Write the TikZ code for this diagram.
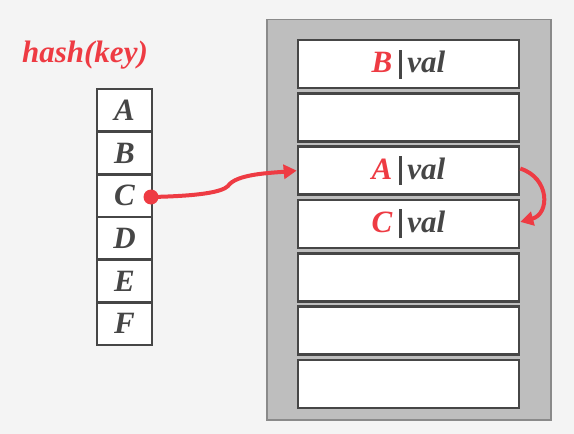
\documentclass[tikz,border=0pt]{standalone}
\usepackage{fontspec}
\setmainfont{Liberation Serif}
\usetikzlibrary{arrows.meta}
\definecolor{bg}{HTML}{F4F4F4}
\definecolor{dk}{HTML}{464646}
\definecolor{rd}{HTML}{EE3B43}
\definecolor{gbox}{HTML}{BEBEBE}
\definecolor{gedge}{HTML}{8A8A8A}
\newcommand{\vbar}{\hspace{7pt}\raisebox{-6pt}{\rule{3pt}{29pt}}\hspace{5pt}}
\tikzset{
  cell/.style={draw=dk, line width=2.6pt, fill=white, minimum width=55pt, minimum height=42.7pt, inner sep=0pt, font=\fontsize{31}{31}\selectfont\bfseries\itshape, text=dk},
  slot/.style={draw=dk, line width=2.6pt, fill=white, minimum width=221pt, minimum height=48pt, inner sep=0pt, font=\fontsize{31}{31}\selectfont\bfseries\itshape, text=dk},
  link/.style={draw=rd, line width=4pt, -{Triangle[length=13pt,width=14pt]}},
}
\begin{document}
\begin{tikzpicture}[x=1pt,y=-1pt]
\useasboundingbox[fill=bg] (0,0) rectangle (574,434);
\node[draw=gedge, line width=1.2pt, fill=gbox, minimum width=284pt, minimum height=400.5pt, inner sep=0pt] (table) at (409,219.75) {};
\node[text=rd, font=\fontsize{31}{31}\selectfont\bfseries\itshape] (hash) at (85,55) {hash(key)};
\foreach \l [count=\i] in {A,B,C,D,E,F} {
  \node[cell] (k\l) at (124.5,{110.3+(\i-1)*42.7}) {\l};
}
\node[slot] (s1) at (408.5,64) {\textcolor{rd}{B}\vbar val};
\node[slot] (s2) at (408.5,117.3) {};
\node[slot] (s3) at (408.5,170.6) {\textcolor{rd}{A}\vbar val};
\node[slot] (s4) at (408.5,223.9) {\textcolor{rd}{C}\vbar val};
\node[slot] (s5) at (408.5,277.2) {};
\node[slot] (s6) at (408.5,330.5) {};
\node[slot] (s7) at (408.5,383.8) {};
\coordinate (dot) at (151,197);
\fill[rd] (dot) circle (7.5pt);
\draw[link] (dot) .. controls (200,196) and (222,192) .. (228,186) .. controls (236,174) and (270,173) .. (s3.west);
\draw[link] ([yshift=2pt]s3.east) .. controls (550,178) and (550,214) .. ([yshift=2pt]s4.east);
\end{tikzpicture}
\end{document}
